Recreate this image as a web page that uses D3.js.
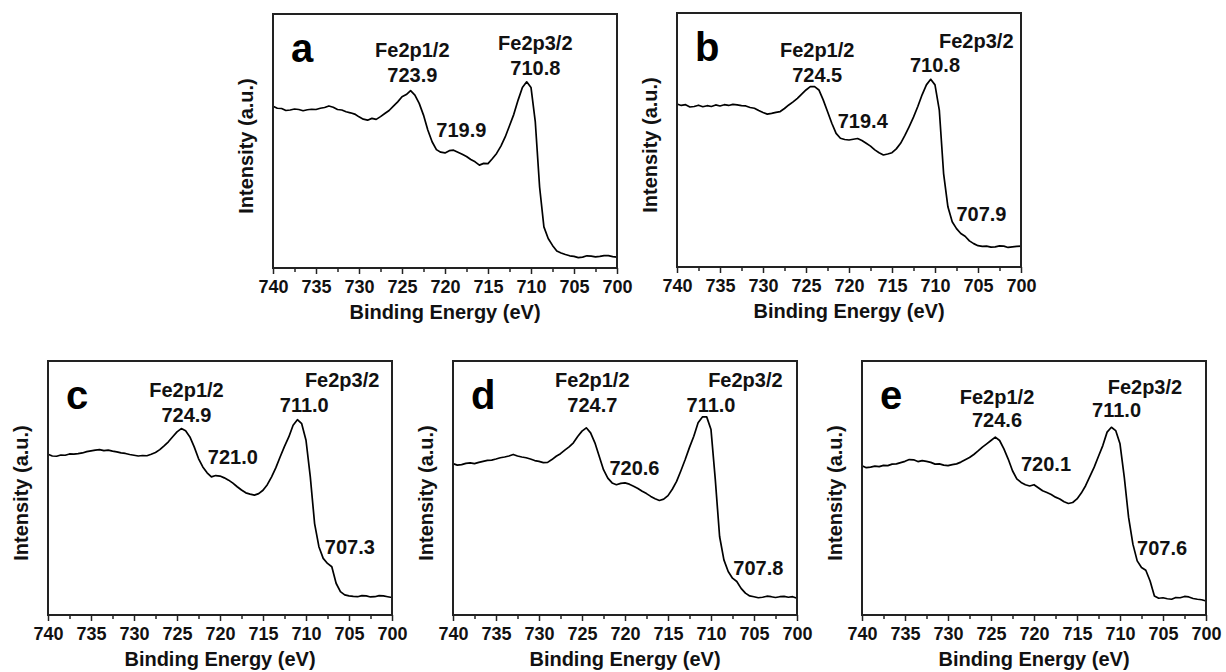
<!DOCTYPE html>
<html>
<head>
<meta charset="utf-8">
<script src="https://cdn.jsdelivr.net/npm/d3@7"></script>
<style>
  body { margin: 0; background: #fff; }
  svg { display: block; font-family: "Liberation Sans", Arial, sans-serif; }
</style>
</head>
<body>
<svg id="chart" width="1226" height="672"></svg>
<script>
// binding energy grid (eV), shared by all five spectra
const energies = [
  740, 739.5, 739, 738.5, 738, 737.5, 737, 736.5, 736, 735.5,
  735, 734.5, 734, 733.5, 733, 732.5, 732, 731.5, 731, 730.5,
  730, 729.5, 729, 728.5, 728, 727.5, 727, 726.5, 726, 725.5,
  725, 724.5, 724, 723.5, 723, 722.5, 722, 721.5, 721, 720.5,
  720, 719.5, 719, 718.5, 718, 717.5, 717, 716.5, 716, 715.5,
  715, 714.5, 714, 713.5, 713, 712.5, 712, 711.5, 711, 710.5,
  710, 709.5, 709, 708.5, 708, 707.5, 707, 706.5, 706, 705.5,
  705, 704.5, 704, 703.5, 703, 702.5, 702, 701.5, 701, 700.5,
  700,
];

// intensity (a.u., 0-100 of the plot height)
const intensityA = [
  63.7, 62.9, 62.8, 62.0, 62.2, 62.6, 62.4, 61.9, 62.3, 62.5,
  62.4, 62.9, 63.2, 63.8, 63.3, 62.4, 62.2, 61.5, 61.1, 60.6,
  59.5, 58.6, 58.2, 58.9, 58.5, 59.6, 60.8, 62.0, 63.7, 65.4,
  67.4, 68.3, 69.8, 68.1, 64.8, 60.2, 54.3, 49.7, 46.6, 45.6,
  45.3, 46.2, 46.4, 45.6, 44.8, 43.9, 42.7, 41.8, 40.5, 41.2,
  41.1, 43.0, 45.1, 48.0, 51.6, 56.0, 60.5, 66.1, 71.1, 73.3,
  71.1, 57.5, 31.9, 16.2, 11.6, 8.9, 6.7, 5.9, 5.3, 4.8,
  4.6, 4.1, 4.3, 4.8, 4.7, 4.4, 4.6, 4.9, 4.9, 4.5,
  4.3,
];
const intensityB = [
  64.2, 63.6, 63.9, 63.0, 63.2, 63.7, 63.1, 63.5, 63.2, 63.8,
  63.4, 63.9, 63.6, 64.0, 63.8, 63.5, 63.4, 62.8, 62.5, 61.6,
  60.8, 60.2, 60.5, 60.9, 61.2, 62.4, 63.8, 65.0, 66.4, 68.1,
  69.7, 71.0, 71.0, 69.7, 65.8, 61.2, 56.6, 52.6, 50.7, 50.2,
  50.0, 50.3, 50.6, 49.8, 48.7, 47.6, 46.1, 45.0, 44.1, 44.5,
  45.0, 46.5, 48.7, 51.8, 55.3, 59.0, 63.2, 67.8, 71.7, 73.9,
  71.7, 61.8, 36.8, 23.7, 17.8, 15.1, 13.2, 12.1, 10.3, 9.2,
  8.4, 8.1, 8.2, 7.8, 7.9, 8.3, 8.2, 7.7, 7.9, 8.1,
  8.2,
];
const intensityC = [
  63.3, 62.6, 62.5, 63.0, 62.9, 63.4, 63.3, 63.5, 63.8, 64.3,
  64.6, 64.9, 65.1, 64.7, 64.9, 64.5, 64.2, 63.8, 63.6, 63.2,
  62.9, 62.6, 62.8, 62.7, 63.3, 64.0, 65.1, 66.6, 68.2, 70.2,
  72.1, 73.4, 72.5, 70.1, 66.2, 61.6, 58.3, 56.0, 54.4, 54.9,
  54.7, 54.0, 53.1, 51.9, 50.5, 49.2, 48.1, 47.6, 47.2, 47.8,
  49.1, 51.3, 54.4, 58.0, 62.3, 66.4, 70.1, 74.7, 76.9, 75.3,
  68.8, 54.4, 36.0, 26.9, 22.3, 20.3, 19.0, 12.5, 9.2, 7.9,
  7.5, 7.3, 7.2, 7.6, 7.5, 7.1, 7.2, 7.6, 7.5, 7.2,
  6.9,
];
const intensityD = [
  59.6, 59.0, 59.2, 59.7, 59.9, 59.6, 60.1, 60.5, 60.9, 61.0,
  61.4, 61.9, 62.2, 62.6, 63.2, 62.6, 62.2, 61.9, 61.4, 60.8,
  60.5, 60.0, 60.1, 61.2, 62.5, 63.5, 64.9, 66.2, 67.8, 70.3,
  72.4, 73.7, 71.7, 67.8, 62.5, 57.2, 53.9, 52.0, 51.3, 51.8,
  52.0, 51.5, 50.7, 49.8, 48.7, 47.8, 46.7, 45.8, 45.1, 45.6,
  47.0, 49.5, 52.6, 56.8, 61.2, 66.0, 70.4, 75.7, 78.0, 78.0,
  73.0, 53.3, 30.9, 21.7, 17.1, 14.5, 13.2, 10.5, 8.6, 7.5,
  7.2, 6.8, 7.0, 7.4, 7.2, 6.9, 7.2, 7.3, 7.0, 7.2,
  6.6,
];
const intensityE = [
  58.8, 58.0, 58.2, 58.6, 58.4, 58.9, 58.8, 59.4, 59.5, 60.0,
  60.5, 61.2, 61.1, 60.4, 60.8, 60.5, 60.1, 59.4, 59.5, 59.0,
  58.8, 59.2, 59.5, 60.2, 61.1, 62.0, 63.2, 64.6, 66.1, 67.4,
  68.7, 70.0, 68.7, 65.4, 61.4, 56.8, 53.6, 52.2, 51.3, 50.8,
  51.3, 50.1, 48.9, 48.2, 47.4, 46.4, 45.7, 44.6, 43.9, 44.3,
  45.7, 48.0, 50.9, 54.6, 58.2, 62.5, 66.7, 72.0, 73.9, 72.6,
  67.4, 54.2, 38.4, 27.9, 21.3, 18.7, 17.6, 13.4, 7.5, 6.6,
  6.8, 6.4, 6.2, 6.9, 6.8, 7.3, 7.1, 6.5, 6.2, 6.0,
  5.5,
];

// peak labels, anchored in data units (energy, intensity)
const labelsA = [
  {text: 'Fe2p1/2', e: 723.8, v: 83.2},
  {text: '723.9', e: 723.8, v: 73.3},
  {text: 'Fe2p3/2', e: 709.5, v: 85.8},
  {text: '710.8', e: 709.5, v: 76.0},
  {text: '719.9', e: 718.1, v: 51.4},
];
const labelsB = [
  {text: 'Fe2p1/2', e: 723.7, v: 82.6},
  {text: '724.5', e: 723.7, v: 73.0},
  {text: 'Fe2p3/2', e: 705.2, v: 86.2},
  {text: '710.8', e: 710.0, v: 76.6},
  {text: '719.4', e: 718.4, v: 54.6},
  {text: '707.9', e: 704.6, v: 18.2},
];
const labelsC = [
  {text: 'Fe2p1/2', e: 723.9, v: 85.9},
  {text: '724.9', e: 723.9, v: 76.1},
  {text: 'Fe2p3/2', e: 705.8, v: 89.9},
  {text: '711.0', e: 710.2, v: 80.0},
  {text: '721.0', e: 718.5, v: 59.4},
  {text: '707.3', e: 704.9, v: 24.0},
];
const labelsD = [
  {text: 'Fe2p1/2', e: 723.8, v: 89.9},
  {text: '724.7', e: 723.8, v: 80.0},
  {text: 'Fe2p3/2', e: 706.0, v: 89.9},
  {text: '711.0', e: 710.0, v: 80.0},
  {text: '720.6', e: 718.9, v: 55.0},
  {text: '707.8', e: 704.5, v: 15.8},
];
const labelsE = [
  {text: 'Fe2p1/2', e: 724.3, v: 83.2},
  {text: '724.6', e: 724.3, v: 74.0},
  {text: 'Fe2p3/2', e: 707.1, v: 87.1},
  {text: '711.0', e: 710.4, v: 78.0},
  {text: '720.1', e: 718.6, v: 56.6},
  {text: '707.6', e: 705.1, v: 23.7},
];

const majorTicks = [740, 735, 730, 725, 720, 715, 710, 705, 700];
const minorTicks = [737.5, 732.5, 727.5, 722.5, 717.5, 712.5, 707.5, 702.5];

const xTitle = 'Binding Energy (eV)';
const yTitle = 'Intensity (a.u.)';

const panels = [
  {letter: 'a', values: intensityA, labels: labelsA, left: 273, top: 14},
  {letter: 'b', values: intensityB, labels: labelsB, left: 677, top: 13},
  {letter: 'c', values: intensityC, labels: labelsC, left: 48, top: 361},
  {letter: 'd', values: intensityD, labels: labelsD, left: 453, top: 361},
  {letter: 'e', values: intensityE, labels: labelsE, left: 862, top: 361},
];

const width = 344;
const height = 254;
const svg = d3.select('#chart');

const x = d3.scaleLinear().domain([740, 700]).range([0, width]);
const y = d3.scaleLinear().domain([0, 100]).range([height, 0]);

panels.forEach(drawPanel);

function drawPanel(p) {
  const g = svg.append('g').attr('transform', `translate(${p.left},${p.top})`);

  const line = d3
    .line()
    .x((d, i) => x(energies[i]))
    .y((d) => y(d));

  g.append('path')
    .attr('d', line(p.values))
    .attr('fill', 'none')
    .attr('stroke', '#000')
    .attr('stroke-width', 1.7)
    .attr('stroke-linejoin', 'round');

  // minor ticks first, then majors with labels
  const minor = g
    .append('g')
    .attr('transform', `translate(0,${height})`)
    .call(d3.axisBottom(x).tickValues(minorTicks).tickSize(4).tickFormat(''));
  const major = g
    .append('g')
    .attr('transform', `translate(0,${height})`)
    .call(d3.axisBottom(x).tickValues(majorTicks).tickSize(6).tickPadding(6).tickFormat(d3.format('d')));

  [minor, major].forEach((ax) => {
    ax.select('.domain').remove();
    ax.selectAll('line').attr('stroke', '#222').attr('stroke-width', 1.5);
  });
  major
    .selectAll('text')
    .attr('fill', '#111')
    .attr('font-size', 18)
    .attr('font-weight', 'bold')
    .attr('font-family', '"Liberation Sans", Arial, sans-serif');

  g.append('rect')
    .attr('width', width)
    .attr('height', height)
    .attr('fill', 'none')
    .attr('stroke', '#222')
    .attr('stroke-width', 2);

  g.append('text')
    .attr('x', width / 2)
    .attr('y', height + 51)
    .attr('text-anchor', 'middle')
    .attr('font-size', 20)
    .attr('font-weight', 'bold')
    .attr('fill', '#111')
    .text(xTitle);

  g.append('text')
    .attr('transform', `translate(-20,${height / 2 + 5}) rotate(-90)`)
    .attr('text-anchor', 'middle')
    .attr('font-size', 20)
    .attr('font-weight', 'bold')
    .attr('fill', '#111')
    .text(yTitle);

  g.append('text')
    .attr('x', 18)
    .attr('y', 48)
    .attr('font-size', 40)
    .attr('font-weight', 'bold')
    .attr('fill', '#000')
    .text(p.letter);

  g.selectAll('.peak')
    .data(p.labels)
    .join('text')
    .attr('class', 'peak')
    .attr('x', (d) => x(d.e))
    .attr('y', (d) => y(d.v))
    .attr('text-anchor', 'middle')
    .attr('font-size', 20)
    .attr('font-weight', 'bold')
    .attr('fill', '#111')
    .text((d) => d.text);
}
</script>
</body>
</html>
